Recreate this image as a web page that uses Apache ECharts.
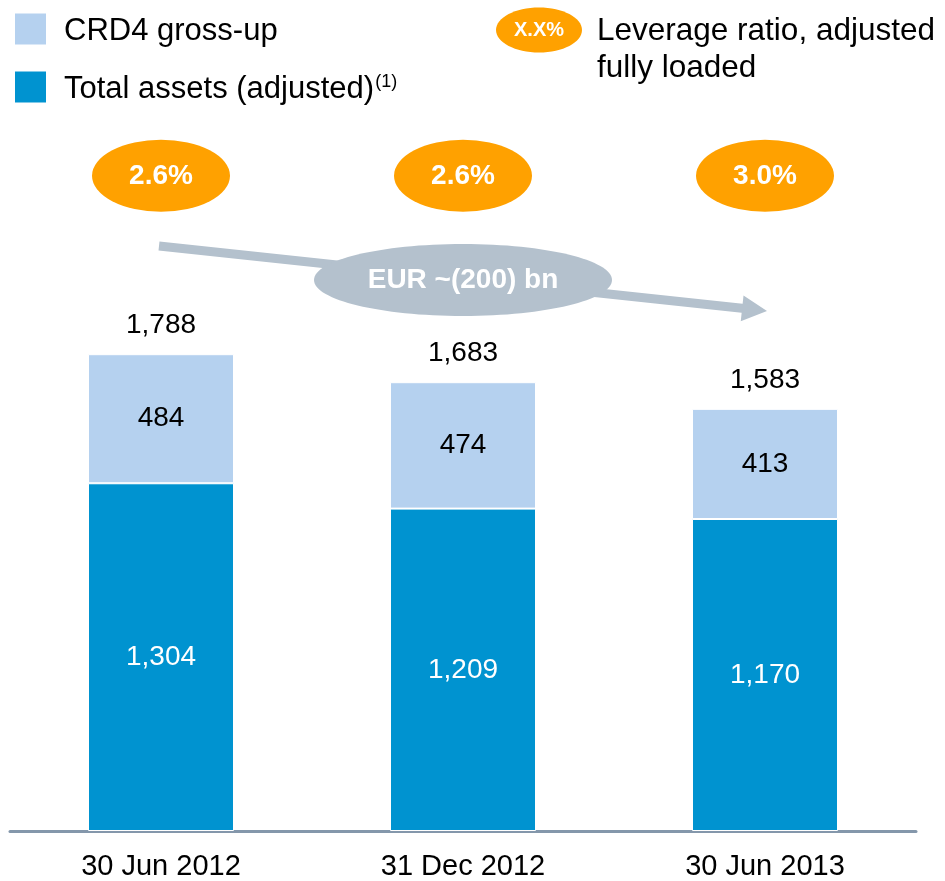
<!DOCTYPE html>
<html>
<head>
<meta charset="utf-8">
<script src="https://cdn.jsdelivr.net/npm/echarts@6/dist/echarts.min.js"></script>
<style>
  html, body { margin: 0; padding: 0; background: #fff; }
  #chart { width: 945px; height: 881px; }
</style>
</head>
<body>
<div id="chart"></div>
<script>
// data (EUR bn)
const categories = ['30 Jun 2012', '31 Dec 2012', '30 Jun 2013'];
const totalAssets = [1304, 1209, 1170];
const crd4GrossUp = [484, 474, 413];
const totals = [1788, 1683, 1583];
const leverageRatio = [2.6, 2.6, 3.0];

const FONT = "'Liberation Sans', Arial, sans-serif";
const DARK = '#0093D0';
const LIGHT = '#B5D1EF';
const ORANGE = '#FFA100';
const GREY = '#B4C1CD';

const fmt = v => v.toLocaleString('en-US');

const chart = echarts.init(document.getElementById('chart'));

// arrow from left to right, drawn as a polygon
function arrowPoints(x1, y1, x2, y2, w, headLen, headW) {
    const dx = x2 - x1, dy = y2 - y1;
    const len = Math.sqrt(dx * dx + dy * dy);
    const ux = dx / len, uy = dy / len;
    const nx = -uy, ny = ux;
    const bx = x2 - ux * headLen, by = y2 - uy * headLen;
    return [
        [x1 + nx * w / 2, y1 + ny * w / 2],
        [bx + nx * w / 2, by + ny * w / 2],
        [bx + nx * headW, by + ny * headW],
        [x2, y2],
        [bx - nx * headW, by - ny * headW],
        [bx - nx * w / 2, by - ny * w / 2],
        [x1 - nx * w / 2, y1 - ny * w / 2]
    ];
}

const option = {
    animation: false,
    textStyle: { fontFamily: FONT },
    grid: { left: 10, right: 29, top: 31, bottom: 49 },
    legend: {
        data: ['CRD4 gross-up', 'Total assets (adjusted)'],
        orient: 'vertical',
        left: 13,
        top: 11,
        padding: 0,
        itemWidth: 33,
        itemHeight: 33,
        itemGap: 22,
        icon: 'rect',
        selectedMode: false,
        formatter: name => name === 'Total assets (adjusted)'
            ? '{a|' + name + '}{s|(1)}'
            : '{a|' + name + '}',
        textStyle: {
            padding: [0, 0, 0, 12],
            rich: {
                a: { fontSize: 31, color: '#000', fontFamily: FONT, lineHeight: 34, padding: [5, 0, 0, 0] },
                s: { fontSize: 18, color: '#000', fontFamily: FONT, padding: [0, 0, 10, 1] }
            }
        }
    },
    xAxis: {
        type: 'category',
        data: categories,
        axisLine: { lineStyle: { color: '#8497AB', width: 3 } },
        axisTick: { show: false },
        axisLabel: { color: '#000', fontSize: 29, margin: 21, fontFamily: FONT }
    },
    yAxis: {
        type: 'value',
        min: 0,
        max: 3000,
        show: false,
        splitLine: { show: false }
    },
    series: [
        {
            name: 'Total assets (adjusted)',
            type: 'bar',
            stack: 'a',
            barWidth: 146,
            data: totalAssets,
            itemStyle: { color: DARK, borderColor: '#fff', borderWidth: 1 },
            label: {
                show: true, position: 'inside', color: '#fff', fontSize: 28,
                fontFamily: FONT, formatter: p => fmt(p.value)
            }
        },
        {
            name: 'CRD4 gross-up',
            type: 'bar',
            stack: 'a',
            barWidth: 146,
            data: crd4GrossUp,
            itemStyle: { color: LIGHT, borderColor: '#fff', borderWidth: 1 },
            label: {
                show: true, position: 'inside', color: '#000', fontSize: 28,
                fontFamily: FONT, formatter: p => fmt(p.value)
            }
        },
        {
            name: 'Total',
            type: 'scatter',
            data: totals,
            symbolSize: 1,
            itemStyle: { color: 'rgba(0,0,0,0)', opacity: 1 },
            label: {
                show: true, position: 'top', distance: 14, color: '#000',
                fontSize: 28, fontFamily: FONT, formatter: p => fmt(p.value)
            },
            z: 5
        },
        {
            name: 'Leverage ratio',
            type: 'scatter',
            data: leverageRatio.map((v, i) => [i, 2457, v]),
            symbol: 'circle',
            symbolSize: [138, 72],
            itemStyle: { color: ORANGE, opacity: 1 },
            label: {
                show: true, position: 'inside', color: '#fff', fontSize: 28,
                fontWeight: 'bold', fontFamily: FONT,
                formatter: p => p.value[2].toFixed(1) + '%'
            },
            z: 5
        }
    ],
    graphic: [
        {
            type: 'polygon',
            shape: { points: arrowPoints(159, 246, 767, 311, 9, 25, 13) },
            style: { fill: GREY },
            z: 10
        },
        {
            type: 'ellipse',
            shape: { cx: 463, cy: 280, rx: 149, ry: 36 },
            style: { fill: GREY },
            z: 11
        },
        {
            type: 'text',
            x: 463, y: 280,
            style: {
                text: 'EUR ~(200) bn', fill: '#fff', font: 'bold 28px ' + FONT,
                align: 'center', verticalAlign: 'middle'
            },
            z: 12
        },
        // right-hand legend for the leverage ratio
        {
            type: 'ellipse',
            shape: { cx: 539, cy: 30, rx: 43, ry: 22.5 },
            style: { fill: ORANGE },
            z: 10
        },
        {
            type: 'text',
            x: 539, y: 30,
            style: {
                text: 'X.X%', fill: '#fff', font: 'bold 20px ' + FONT,
                align: 'center', verticalAlign: 'middle'
            },
            z: 11
        },
        {
            type: 'text',
            x: 597, y: 13,
            style: {
                text: 'Leverage ratio, adjusted\nfully loaded', fill: '#000',
                font: '31.5px ' + FONT, lineHeight: 37
            },
            z: 10
        }
    ]
};

chart.setOption(option);
</script>
</body>
</html>
